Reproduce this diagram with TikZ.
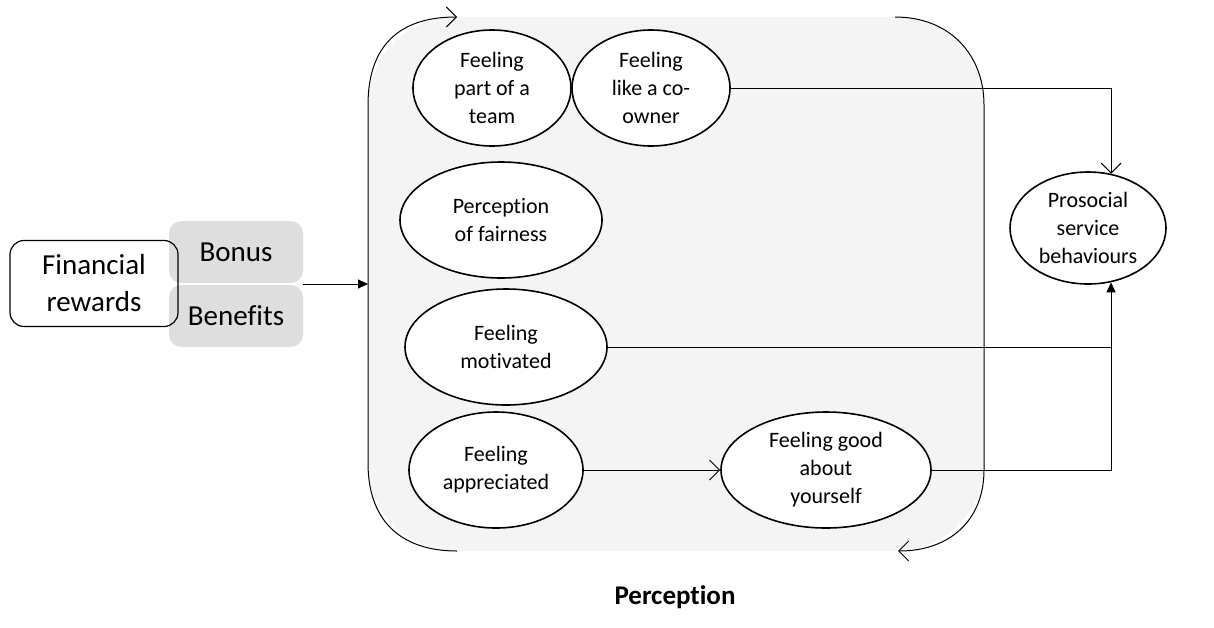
\documentclass[tikz,border=0pt]{standalone}
\usepackage{fontspec}
\setmainfont{Carlito}[Ligatures=NoCommon]
\usetikzlibrary{shapes.geometric,arrows.meta}
\definecolor{panel}{HTML}{F4F4F4}
\definecolor{chip}{HTML}{DEDEDE}
\tikzset{
  oval/.style={draw, line width=0.8pt, fill=white, ellipse, inner sep=0pt,
    align=center, font=\fontsize{11}{14}\selectfont},
  chipbox/.style={fill=chip, rounded corners=6pt, inner sep=0pt,
    minimum width=67pt, minimum height=31pt, font=\fontsize{14.5}{18}\selectfont},
  link/.style={line width=0.5pt},
  openhead/.style={-{Straight Barb[length=5pt,width=10pt,line width=0.5pt]}},
  solidhead/.style={-{Triangle[length=5pt,width=4.5pt]}},
}
\begin{document}
\begin{tikzpicture}[x=0.5pt,y=-0.5pt]
\useasboundingbox (0,0) rectangle (1214,627);
% panel
\fill[panel, rounded corners=44pt] (368,17) rectangle (984,551);
% curved arrows of the panel
\coordinate (lb) at (457,551);
\coordinate (lt) at (457,17);
\coordinate (rt) at (895,17);
\coordinate (rb) at (898,551);
\draw[link, openhead] (lb) .. controls (400,551) and (368,520) .. (368,463)
  -- (368,105) .. controls (368,45) and (400,17) .. (lt);
\draw[link, openhead] (rt) .. controls (950,17) and (984,55) .. (984,105)
  -- (984,470) .. controls (984,520) and (950,551) .. (rb);
% left boxes
\node[chipbox] (bonus) at (236,252) {Bonus};
\node[chipbox] (benefits) at (236,316) {Benefits};
\node[draw, line width=0.6pt, rounded corners=7pt, minimum width=84pt, minimum height=43pt,
  inner sep=0pt, align=center, font=\fontsize{14.5}{18.5}\selectfont] (fin) at (94,283.5) {Financial\\rewards};
\coordinate (mid) at (303,284);
\coordinate (panelL) at (368,284);
\draw[link, solidhead] (mid) -- (panelL);
% ovals
\node[oval, minimum width=79pt, minimum height=58pt] (team) at (492,88) {Feeling\\part of a\\team};
\node[oval, minimum width=79pt, minimum height=58pt] (owner) at (651,88) {Feeling\\like a co-\\owner};
\node[oval, minimum width=101pt, minimum height=58pt] (fair) at (501,220) {Perception\\of fairness};
\node[oval, minimum width=101pt, minimum height=58pt] (motiv) at (506,347) {Feeling\\motivated};
\node[oval, minimum width=87pt, minimum height=58pt] (appr) at (496,470) {Feeling\\appreciated};
\node[oval, minimum width=105pt, minimum height=58pt] (good) at (826,470) {Feeling good\\about\\yourself};
\node[oval, minimum width=78pt, minimum height=56pt] (pro) at (1088,228) {Prosocial\\service\\behaviours};
% connectors
\coordinate (pin) at (pro.67);
\coordinate (pout) at (pro.-67);
\draw[link, openhead] (owner.east) -- (owner.east -| pin) -- (pin);
\draw[link, solidhead] (motiv.east) -- (motiv.east -| pout) -- (pout);
\draw[link] (good.east) -- (good.east -| pout) -- (motiv.east -| pout);
\draw[link, openhead] (appr.east) -- (good.west);
% label
\node[font=\bfseries\fontsize{13.5}{16}\selectfont] (lab) at (675,597) {Perception};
\end{tikzpicture}
\end{document}
